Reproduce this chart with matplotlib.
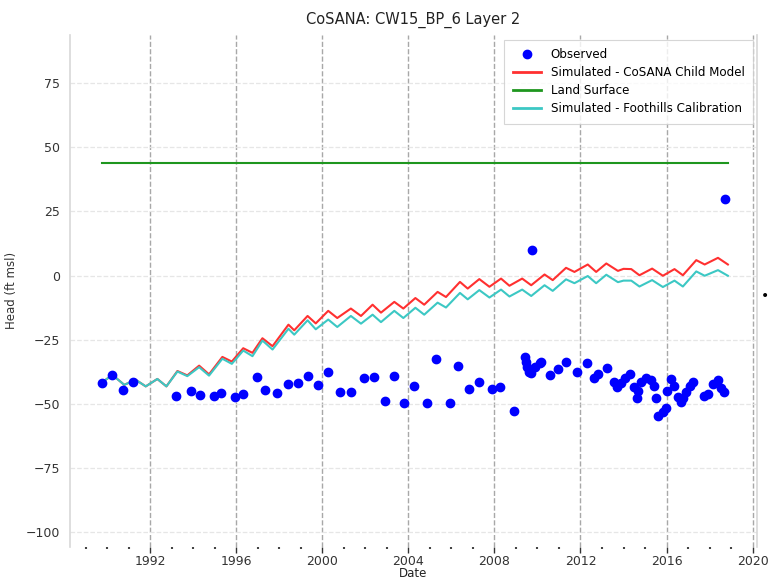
import numpy as np
import pandas as pd
import matplotlib
matplotlib.use("Agg")
import matplotlib.pyplot as plt
import matplotlib.dates as mdates

# ---------------- data (decimal years, ft msl) ----------------
obs_t = [1989.75, 1990.22, 1990.76, 1991.22, 1993.22, 1993.92, 1994.31, 1994.98,
         1995.32, 1995.94, 1996.34, 1996.99, 1997.32, 1997.90, 1998.39, 1998.88,
         1999.32, 1999.81, 2000.26, 2000.84, 2001.35, 2001.92, 2002.39, 2002.90,
         2003.32, 2003.81, 2004.25, 2004.85, 2005.29, 2005.92, 2006.31, 2006.84,
         2007.27, 2007.88, 2008.28, 2008.90, 2009.40, 2009.45, 2009.52, 2009.63,
         2009.70, 2009.75, 2009.90, 2010.10, 2010.17, 2010.59, 2010.94, 2011.33,
         2011.84, 2012.29, 2012.65, 2012.82, 2013.22, 2013.58, 2013.70, 2013.86,
         2014.09, 2014.28, 2014.50, 2014.67, 2014.62, 2014.80, 2015.05, 2015.30,
         2015.40, 2015.52, 2015.60, 2015.82, 2015.96, 2016.03, 2016.22, 2016.37,
         2016.53, 2016.68, 2016.75, 2016.92, 2017.08, 2017.22, 2017.72, 2017.92,
         2018.15, 2018.39, 2018.54, 2018.65, 2018.70]
obs_v = [-42.1, -38.8, -44.7, -41.7, -47.2, -45.2, -46.7, -46.9,
         -46.0, -47.3, -46.4, -39.7, -44.6, -46.0, -42.4, -42.0,
         -39.3, -42.7, -37.8, -45.4, -45.4, -40.1, -39.7, -48.9,
         -39.3, -49.9, -43.3, -49.9, -32.5, -49.9, -35.4, -44.3,
         -41.4, -44.4, -43.4, -53.0, -31.9, -33.6, -35.8, -37.8,
         -38.2, 9.9, -35.8, -34.1, -33.8, -38.8, -36.7, -33.6,
         -37.5, -34.2, -40.1, -38.4, -36.2, -41.4, -43.7, -42.0,
         -40.1, -38.4, -43.7, -45.0, -48.0, -41.4, -40.1, -40.7,
         -43.0, -48.0, -54.8, -53.2, -51.9, -45.0, -40.4, -43.0,
         -47.6, -49.5, -48.0, -45.6, -43.0, -41.4, -46.9, -46.3,
         -42.4, -41.0, -44.0, -45.4, 29.9]

sim_t = [1989.78, 1990.25, 1990.80, 1991.33, 1991.80, 1992.34, 1992.76, 1993.27,
         1993.73, 1994.28, 1994.74, 1995.36, 1995.80, 1996.33, 1996.76, 1997.22,
         1997.69, 1998.43, 1998.70, 1999.32, 1999.70, 2000.28, 2000.70, 2001.33,
         2001.80, 2002.34, 2002.73, 2003.35, 2003.77, 2004.33, 2004.74, 2005.36,
         2005.75, 2006.40, 2006.76, 2007.30, 2007.77, 2008.31, 2008.70, 2009.29,
         2009.71, 2010.33, 2010.71, 2011.33, 2011.72, 2012.34, 2012.73, 2013.20,
         2013.74, 2014.00, 2014.36, 2014.74, 2015.33, 2015.83, 2016.37, 2016.76,
         2017.38, 2017.77, 2018.39, 2018.85]
child_v = [-41.7, -38.8, -42.7, -40.7, -43.3, -40.4, -43.3, -37.3,
           -39.0, -35.2, -38.6, -31.8, -33.6, -28.4, -30.2, -24.5,
           -27.6, -19.2, -21.4, -15.8, -18.7, -13.8, -16.6, -12.9,
           -15.8, -11.4, -14.5, -10.3, -12.9, -8.8, -11.4, -6.4,
           -8.4, -2.5, -5.1, -1.4, -4.4, -1.2, -4.0, -1.2,
           -3.8, 0.4, -1.8, 3.0, 1.4, 4.3, 1.4, 4.7,
           1.8, 2.6, 2.5, 0.1, 2.7, -0.1, 2.5, 0.1,
           6.0, 4.3, 6.9, 4.3]
foothills_v = [-41.7, -38.8, -42.7, -40.7, -43.3, -40.4, -43.3, -37.5,
               -39.3, -35.8, -39.1, -32.5, -34.5, -29.3, -31.5, -25.4,
               -28.9, -20.8, -23.1, -17.5, -21.0, -17.2, -20.1, -15.8,
               -18.8, -15.3, -18.2, -13.8, -16.6, -12.6, -15.3, -10.6,
               -12.5, -6.8, -9.3, -5.7, -8.6, -5.5, -8.2, -5.5,
               -8.0, -3.8, -6.0, -1.5, -3.0, -0.2, -3.0, 0.3,
               -2.6, -2.0, -2.0, -4.3, -1.8, -4.5, -2.0, -4.3,
               1.6, -0.1, 2.1, -0.1]
land_t = [1989.78, 2018.85]
land_v = [44.0, 44.0]


def to_dates(years):
    out = []
    for y in years:
        yr = int(np.floor(y))
        start = pd.Timestamp(year=yr, month=1, day=1)
        out.append(start + pd.Timedelta(days=(y - yr) * 365.25))
    return out


plt.rcParams['font.family'] = ['DejaVu Sans']
fig = plt.figure(figsize=(7.69, 5.80), dpi=100)
ax = fig.add_axes([0.091, 0.057, 0.893, 0.883])

ax.plot(to_dates(obs_t), obs_v, 'o', color='#0000ff', ms=6, label='Observed', zorder=3)
ax.plot(to_dates(sim_t), child_v, '-', color='#ff3030', lw=1.5,
        label='Simulated - CoSANA Child Model', zorder=2)
ax.plot(to_dates(land_t), land_v, '-', color='#1e961e', lw=1.5,
        label='Land Surface', zorder=2)
ax.plot(to_dates(sim_t), foothills_v, '-', color='#3cc8c4', lw=1.5,
        label='Simulated - Foothills Calibration', zorder=2)

ax.set_xlim(to_dates([1988.28])[0], to_dates([2020.19])[0])
ax.set_ylim(-106, 94)
ax.set_yticks([-100, -75, -50, -25, 0, 25, 50, 75])

ax.xaxis.set_major_locator(mdates.YearLocator(4))
ax.xaxis.set_major_formatter(mdates.DateFormatter('%Y'))
ax.xaxis.set_minor_locator(mdates.YearLocator(1))

ax.grid(False)
ax.grid(which='major', axis='x', color='#a8a8a8', linestyle='--', lw=1.0)
ax.grid(which='major', axis='y', color='#e6e6e6', linestyle='--', lw=0.9)

for s in ['top', 'bottom']:
    ax.spines[s].set_visible(False)
for s in ['left', 'right']:
    ax.spines[s].set_color('#d8d8d8')
    ax.spines[s].set_linewidth(1.2)

ax.tick_params(axis='x', which='major', length=4, width=1, color='#333333',
               labelsize=9, labelcolor='#333333', pad=2)
ax.tick_params(axis='x', which='minor', length=1.5, width=1.5, color='#444444')
ax.tick_params(axis='y', which='both', length=0, labelsize=9,
               labelcolor='#333333', pad=7)

ax.set_title('CoSANA: CW15_BP_6 Layer 2', fontsize=10.5, color='#222222', pad=8)
ax.set_xlabel('Date', fontsize=8.5, color='#222222', labelpad=-1)
ax.set_ylabel('Head (ft msl)', fontsize=8.5, color='#333333', labelpad=6)

leg = ax.legend(loc='upper right', fontsize=8.6, numpoints=1, frameon=True,
                bbox_to_anchor=(0.993, 0.988), borderaxespad=0.2,
                handlelength=2.4, labelspacing=0.42, handletextpad=0.8)
leg.get_frame().set_edgecolor('#cccccc')
leg.get_frame().set_linewidth(0.8)
leg.get_frame().set_boxstyle('square')
for lh in leg.get_lines():
    lh.set_linewidth(2.0)

fig.text(765 / 769, 1 - 296 / 580, '\u2022', fontsize=10, ha='center', va='center',
         color='#000000')

fig.savefig('out.png', dpi=100)
